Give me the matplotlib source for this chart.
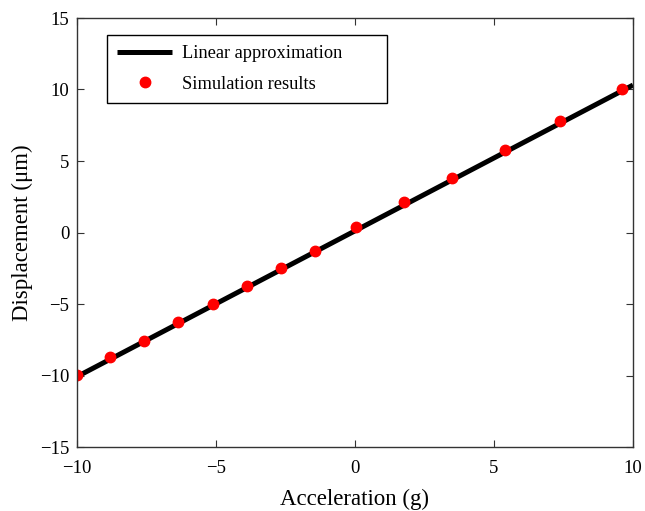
import matplotlib
matplotlib.use("Agg")
import matplotlib.pyplot as plt

# Data
line_x = [-10, 10]
line_y = [-10.08, 10.31]
sim_x = [-9.99, -8.81, -7.58, -6.36, -5.12, -3.88, -2.66, -1.44, 0.04, 1.76, 3.50, 5.40, 7.37, 9.59]
sim_y = [-9.97, -8.69, -7.57, -6.24, -5.00, -3.74, -2.50, -1.27, 0.36, 2.11, 3.81, 5.77, 7.79, 10.03]
xticks = [-10, -5, 0, 5, 10]
yticks = [-15, -10, -5, 0, 5, 10, 15]

plt.rcParams['font.family'] = ['Liberation Serif', 'DejaVu Serif']

W, H = 645, 511
fig = plt.figure(figsize=(W/100, H/100), dpi=100)
L, R, T, B = 77, 633, 18, 447
ax = fig.add_axes([L/W, 1 - B/H, (R-L)/W, (B-T)/H])

ax.plot(line_x, line_y, color='black', lw=3.6, label='Linear approximation', solid_capstyle='butt')
ax.plot(sim_x, sim_y, linestyle='none', marker='o', color='red', markersize=7.5,
        markeredgecolor='red', label='Simulation results')

ax.set_xlim(-10, 10)
ax.set_ylim(-15, 15)
ax.set_xticks(xticks)
ax.set_yticks(yticks)
ax.tick_params(direction='in', top=True, right=True, labelsize=13.5, length=5, width=0.8,
               color='#333333')
ax.tick_params(axis='x', pad=9)
ax.tick_params(axis='y', pad=5.5)
for s in ax.spines.values():
    s.set_color('#333333')
    s.set_linewidth(1.0)

ax.set_xlabel('Acceleration (g)', fontsize=16.5, labelpad=9)
ax.set_ylabel('Displacement (μm)', fontsize=16.5, labelpad=5)

# legend box: x 107..387, y 35..101 px
x0 = (107 - L) / (R - L)
x1 = (387 - L) / (R - L)
y1 = (B - 35) / (B - T)
y0 = (B - 101) / (B - T)
leg = ax.legend(loc='upper left', bbox_to_anchor=(x0, y0, x1 - x0, y1 - y0), mode='expand',
                fontsize=13.2, frameon=True, fancybox=False, edgecolor='black', framealpha=1,
                handlelength=3.0, borderpad=0.55, labelspacing=0.75, handletextpad=0.55,
                borderaxespad=0)
leg.get_frame().set_linewidth(1.0)

fig.savefig('out.png', dpi=100)
